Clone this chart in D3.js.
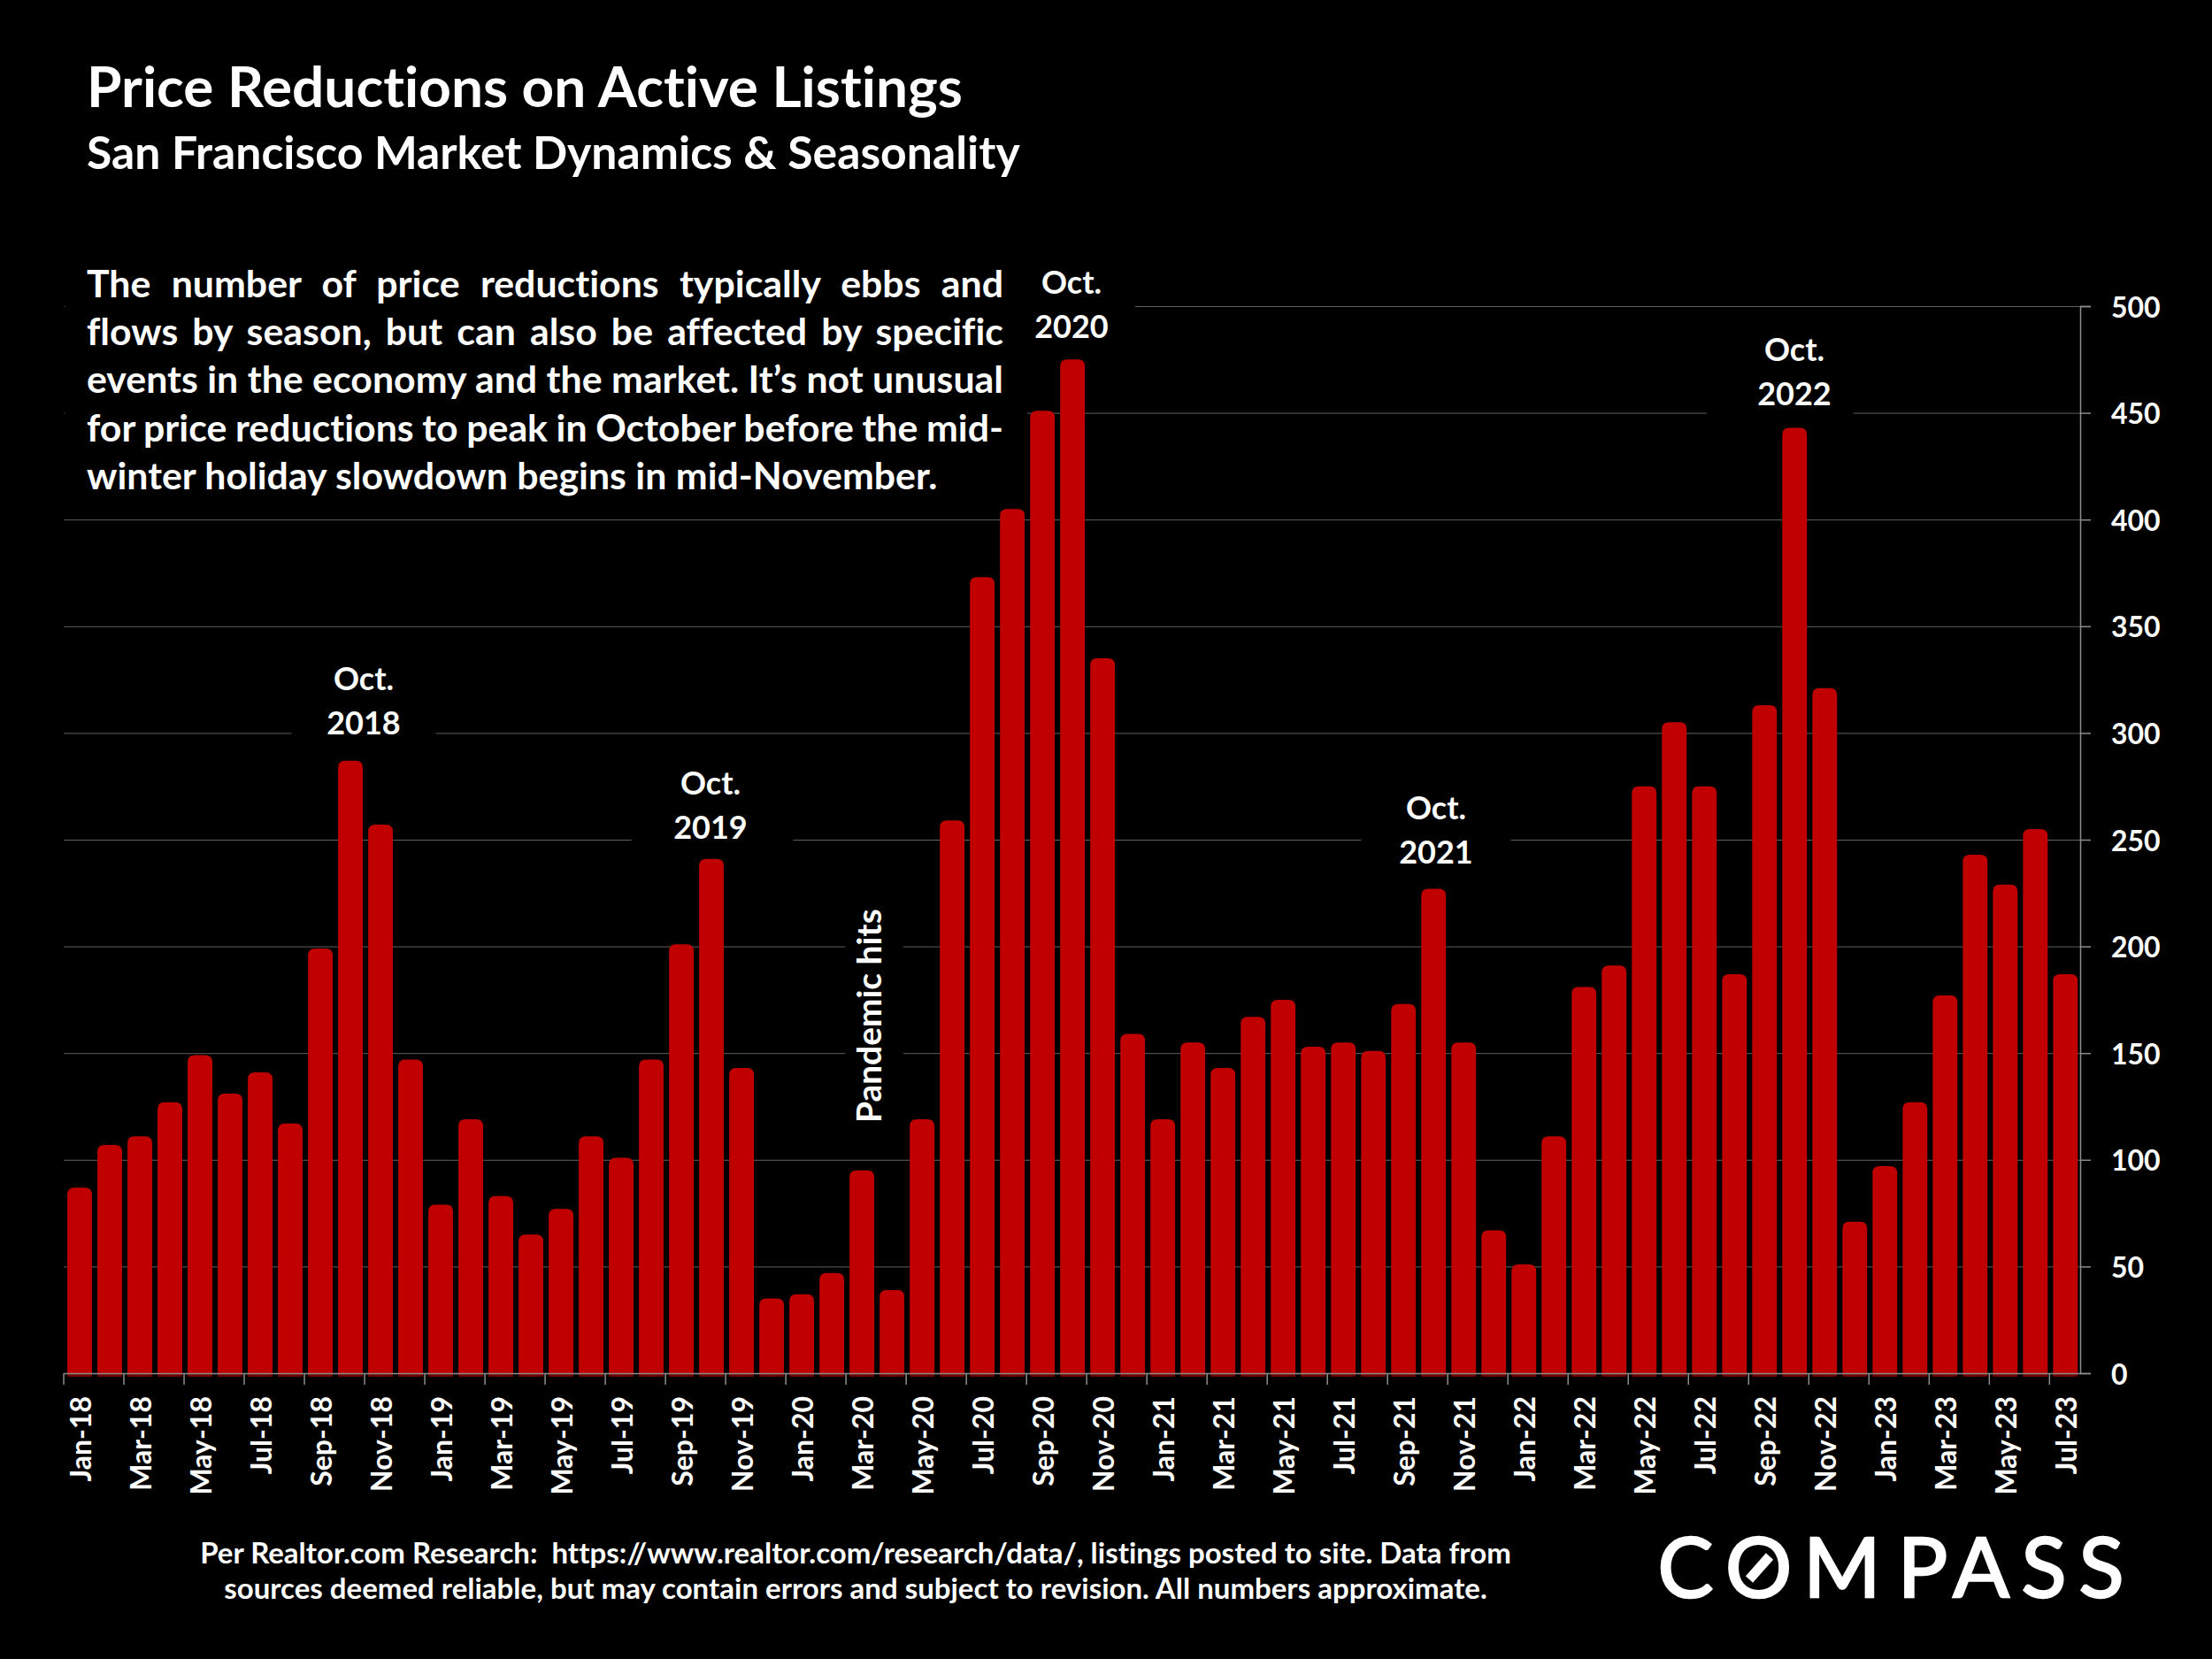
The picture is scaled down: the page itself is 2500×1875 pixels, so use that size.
<!DOCTYPE html>
<html>
<head>
<meta charset="utf-8">
<script src="https://cdnjs.cloudflare.com/ajax/libs/d3/7.8.5/d3.min.js"></script>
<style>
  html, body { margin: 0; background: #000; }
  svg { display: block; }
  text { font-family: Lato, sans-serif; font-weight: 700; fill: #fff; font-variant-ligatures: none; }
</style>
</head>
<body>
<svg id="chart" width="2500" height="1875"></svg>
<script>
const years = ["18", "19", "20", "21", "22", "23"];
const monthNames = ["Jan", "Feb", "Mar", "Apr", "May", "Jun", "Jul", "Aug", "Sep", "Oct", "Nov", "Dec"];
const months = years.flatMap(y => monthNames.map(m => `${m}-${y}`)).slice(0, 67);

const reductions = [
  87, 107, 111, 127, 149, 131, 141, 117, 199, 287, 257, 147,
  79, 119, 83, 65, 77, 111, 101, 147, 201, 241, 143, 35,
  37, 47, 95, 39, 119, 259, 373, 405, 451, 475, 335, 159,
  119, 155, 143, 167, 175, 153, 155, 151, 173, 227, 155, 67,
  51, 111, 181, 191, 275, 305, 275, 187, 313, 443, 321, 71,
  97, 127, 177, 243, 229, 255, 187
];
const yTicks = [0, 50, 100, 150, 200, 250, 300, 350, 400, 450, 500];

const titleText = "Price Reductions on Active Listings";
const subtitleText = "San Francisco Market Dynamics & Seasonality";
const bodyLines = [
  "The number of price reductions typically ebbs and",
  "flows by season, but can also be affected by specific",
  "events in the economy and the market. It’s not unusual",
  "for price reductions to peak in October before the mid-",
  "winter holiday slowdown begins in mid-November."
];
const footerLines = [
  "Per Realtor.com Research:  https://www.realtor.com/research/data/, listings posted to site. Data from",
  "sources deemed reliable, but may contain errors and subject to revision. All numbers approximate."
];
const octLabels = [["Oct.", "2018"], ["Oct.", "2019"], ["Oct.", "2020"], ["Oct.", "2021"], ["Oct.", "2022"]];
const octCentres = [411, 803, 1211, 1623, 2028];
const octTops = [767, 885, 319, 913, 395];
const octMaskCentres = [411, 805, 1211, 1623, 2012];
const octMaskWidths = [163, 183, 144, 169, 166];

const svg = d3.select("#chart");
const plotLeft = 72, plotRight = 2351, plotTop = 346, plotBottom = 1552;

const x = d3.scaleBand().domain(months).range([plotLeft, plotRight])
  .paddingInner(0.18).paddingOuter(0.1).align(0.6);
const y = d3.scaleLinear().domain([0, 500]).range([plotBottom, plotTop]);
const step = x.step();

// set the font size so that the text is exactly the given width
function fitFont(sel, width) {
  const size = parseFloat(sel.style("font-size"));
  sel.style("font-size", size * width / sel.node().getComputedTextLength() + "px");
}

// justify a line by stretching the gaps between its words
function justify(sel, width) {
  const gaps = sel.text().split(" ").length - 1;
  sel.attr("word-spacing", (width - sel.node().getComputedTextLength()) / gaps);
}

svg.append("rect").attr("width", 2500).attr("height", 1875).attr("fill", "#000");

// gridlines
svg.append("g").attr("transform", `translate(${plotRight},0)`)
  .call(d3.axisLeft(y).tickValues(yTicks.slice(1)).tickSize(plotRight - plotLeft).tickFormat(""))
  .call(g => g.select(".domain").remove())
  .selectAll("line").attr("stroke", "#606060").attr("stroke-width", 1);

// black boxes that cut the gridlines behind the text
const masks = svg.append("g").attr("fill", "#000");
masks.append("rect").attr("x", 73).attr("y", 300).attr("width", 1088).attr("height", 270);
masks.selectAll(".oct").data(octMaskCentres).join("rect").attr("class", "oct")
  .attr("x", (d, i) => d - octMaskWidths[i] / 2)
  .attr("y", (d, i) => octTops[i] - 30)
  .attr("width", (d, i) => octMaskWidths[i])
  .attr("height", 118);
masks.append("rect").attr("x", 955).attr("y", 1020).attr("width", 66).attr("height", 250);

// bars
const radius = 8;
const barPath = d => {
  const x0 = x(d.month), x1 = x0 + x.bandwidth(), yt = y(d.value);
  return `M${x0},${plotBottom}V${yt + radius}Q${x0},${yt} ${x0 + radius},${yt}H${x1 - radius}Q${x1},${yt} ${x1},${yt + radius}V${plotBottom}Z`;
};
const barData = months.map((month, i) => ({ month, value: reductions[i] }));
svg.append("g").attr("fill", "#6e0000").selectAll("rect").data(barData).join("rect")
  .attr("x", d => x(d.month)).attr("y", plotBottom).attr("width", x.bandwidth()).attr("height", 4);
svg.append("g").attr("fill", "#c00000").selectAll("path").data(barData).join("path").attr("d", barPath);

// x axis, ticks sit between the bands
const xAxis = svg.append("g").attr("transform", `translate(0,${plotBottom})`)
  .call(d3.axisBottom(x).tickValues(months.filter((m, i) => i % 2 === 0)).tickSize(13).tickSizeOuter(0));
xAxis.select(".domain").attr("stroke", "#8c8c8c").attr("stroke-width", 1.5);
xAxis.selectAll("line").attr("stroke", "#8c8c8c").attr("stroke-width", 1.5)
  .attr("transform", `translate(${-step / 2 - 1},0)`);
xAxis.selectAll("text")
  .attr("text-anchor", "end")
  .attr("transform", "translate(1,0) rotate(-90)")
  .attr("x", -26).attr("y", 0).attr("dy", "0.36em")
  .style("font-size", "32px").style("font-family", "Lato").style("font-weight", 700);

// y axis on the right
const yAxis = svg.append("g").attr("transform", `translate(${plotRight},0)`)
  .call(d3.axisRight(y).tickValues(yTicks).tickSize(12).tickPadding(23));
yAxis.select(".domain").attr("stroke", "#8c8c8c").attr("stroke-width", 1.5);
yAxis.selectAll("line").attr("stroke", "#8c8c8c").attr("stroke-width", 1.5);
yAxis.selectAll("text").attr("dy", "0.38em")
  .style("font-size", "32px").style("font-family", "Lato").style("font-weight", 700);

// titles
svg.append("text").attr("x", 98).attr("y", 121).style("font-size", "56px").text(titleText).call(fitFont, 990);
svg.append("text").attr("x", 98).attr("y", 191).style("font-size", "44px").text(subtitleText).call(fitFont, 1055);

// body copy, the third line has no stretch so it sets the font size
const body = svg.append("g").style("font-size", "42px");
const bodyRows = body.selectAll("text").data(bodyLines).join("text")
  .attr("x", 98).attr("y", (d, i) => 336 + i * 54.2).text(d => d);
body.style("font-size", 42 * 1036 / bodyRows.nodes()[2].getComputedTextLength() + "px");
bodyRows.filter((d, i) => i < 4).each(function() { justify(d3.select(this), 1036); });

// October callouts
const octs = svg.append("g").attr("text-anchor", "middle").style("font-size", "36px");
octLabels.forEach((lines, i) => {
  octs.selectAll(null).data(lines).join("text")
    .attr("x", octCentres[i]).attr("y", (d, j) => octTops[i] + 13 + j * 50).text(d => d);
});

svg.append("text").attr("transform", "translate(996,1269) rotate(-90)")
  .style("font-size", "34px").text("Pandemic hits").call(fitFont, 242);

// footer
const footer = svg.append("g").attr("text-anchor", "middle").style("font-size", "33px");
const footerRows = footer.selectAll("text").data(footerLines).join("text")
  .attr("x", 967).attr("y", (d, i) => 1767 + i * 40).style("white-space", "pre").text(d => d);
footer.style("font-size", 33 * 1482 / footerRows.nodes()[0].getComputedTextLength() + "px");

// logo
const logoLetters = ["C", "O", "M", "P", "A", "S", "S"];
const logoCentres = [1905, 1987.5, 2082, 2173, 2239, 2310, 2375];
const logo = svg.append("g").attr("text-anchor", "middle");
logo.selectAll("text").data(logoLetters).join("text")
  .attr("x", (d, i) => logoCentres[i]).attr("y", 1805)
  .style("font-size", "94px").style("font-weight", 400)
  .attr("stroke", "#fff").attr("stroke-width", 2.5).text(d => d);
logo.append("line").attr("x1", 1977).attr("y1", 1785).attr("x2", 2000).attr("y2", 1759)
  .attr("stroke", "#fff").attr("stroke-width", 11);
</script>
</body>
</html>
